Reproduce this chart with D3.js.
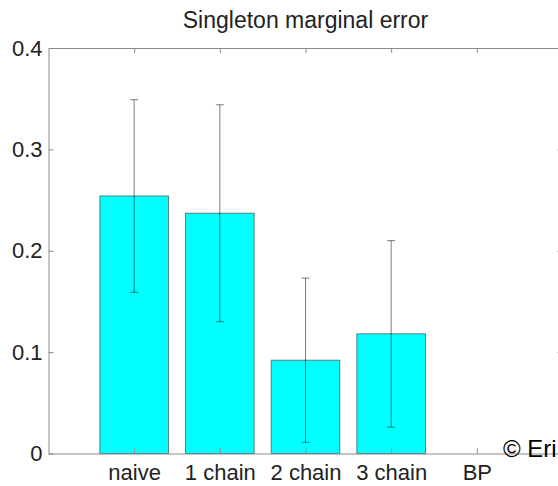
<!DOCTYPE html>
<html>
<head>
<meta charset="utf-8">
<script src="https://cdn.jsdelivr.net/npm/d3@7"></script>
<style>
  body { margin: 0; background: #fff; }
  svg text { font-family: "Liberation Sans", Arial, sans-serif; fill: #222; }
</style>
</head>
<body>
<div id="chart"></div>
<script>
// Data
const categories = ["naive", "1 chain", "2 chain", "3 chain", "BP"];
const values = [0.254, 0.237, 0.092, 0.118, 0];
const errLow = [0.159, 0.130, 0.011, 0.026, null];
const errHigh = [0.349, 0.344, 0.173, 0.210, null];
const yTicks = [0, 0.1, 0.2, 0.3, 0.4];
const title = "Singleton marginal error";
const watermark = "\u00a9 Eri";

const W = 558, H = 486;
const margin = { top: 48, left: 48.5, bottom: 32.5 };
const plotRight = 562.5; // right edge of the box is cropped off

const svg = d3.select("#chart").append("svg")
  .attr("width", W)
  .attr("height", H);

const x = d3.scaleLinear().domain([0, categories.length + 1]).range([margin.left, plotRight]);
const y = d3.scaleLinear().domain([0, 0.4]).range([H - margin.bottom, margin.top]);

const axisColor = "#8a8a8a";
const barW = (x(1) - x(0)) * 0.8;

// Bars
svg.selectAll(".bar")
  .data(values)
  .enter()
  .append("rect")
  .attr("class", "bar")
  .attr("x", (d, i) => x(i + 1) - barW / 2)
  .attr("y", d => y(d))
  .attr("width", barW)
  .attr("height", d => y(0) - y(d))
  .style("fill", d => d > 0 ? "#00ffff" : "none")
  .style("stroke", d => d > 0 ? "#4d8080" : "none")
  .style("stroke-width", "1px");

// Error bars
const errData = values.map((v, i) => ({ i, v, lo: errLow[i], hi: errHigh[i] })).filter(d => d.lo !== null);
const err = svg.append("g")
  .style("stroke", "#000")
  .style("stroke-opacity", 0.5)
  .style("stroke-width", "1px");

err.selectAll(".stem")
  .data(errData)
  .enter()
  .append("line")
  .attr("x1", d => x(d.i + 1))
  .attr("x2", d => x(d.i + 1))
  .attr("y1", d => y(d.lo))
  .attr("y2", d => y(d.hi));

["lo", "hi"].forEach(k => {
  err.selectAll(".cap-" + k)
    .data(errData)
    .enter()
    .append("line")
    .attr("x1", d => x(d.i + 1) - 4)
    .attr("x2", d => x(d.i + 1) + 4)
    .attr("y1", d => y(d[k]))
    .attr("y2", d => y(d[k]));
});

// Axes (MATLAB style box, ticks pointing inward)
const xTickVals = categories.map((c, i) => i + 1);

const axBottom = svg.append("g")
  .attr("transform", `translate(0,${y(0)})`)
  .call(d3.axisBottom(x).tickValues(xTickVals).tickFormat((d, i) => categories[i])
    .tickSizeInner(-5).tickSizeOuter(0).tickPadding(11));

const axTop = svg.append("g")
  .attr("transform", `translate(0,${y(0.4)})`)
  .call(d3.axisTop(x).tickValues(xTickVals).tickFormat("")
    .tickSizeInner(-5).tickSizeOuter(0));

const axLeft = svg.append("g")
  .attr("transform", `translate(${x(0)},0)`)
  .call(d3.axisLeft(y).tickValues(yTicks).tickFormat(d => d === 0 ? "0" : d3.format(".1f")(d))
    .tickSizeInner(-5).tickSizeOuter(0).tickPadding(6));

const axRight = svg.append("g")
  .attr("transform", `translate(${x(categories.length + 1)},0)`)
  .call(d3.axisRight(y).tickValues(yTicks).tickFormat("")
    .tickSizeInner(-5).tickSizeOuter(0));

[axBottom, axTop, axLeft, axRight].forEach(a => {
  a.selectAll("path, line").style("stroke", axisColor).style("stroke-width", "1px");
  a.selectAll("text").style("font-size", "22px").style("fill", "#222");
});
axBottom.selectAll("text").attr("dy", "0.71em");

// Title
svg.append("text")
  .attr("x", (x(0) + x(categories.length + 1)) / 2)
  .attr("y", 28)
  .style("text-anchor", "middle")
  .style("font-size", "23px")
  .text(title);

// Watermark (cropped in the original)
svg.append("text")
  .attr("x", 503)
  .attr("y", 457)
  .style("font-size", "24px")
  .style("fill", "#000")
  .text(watermark);
</script>
</body>
</html>
